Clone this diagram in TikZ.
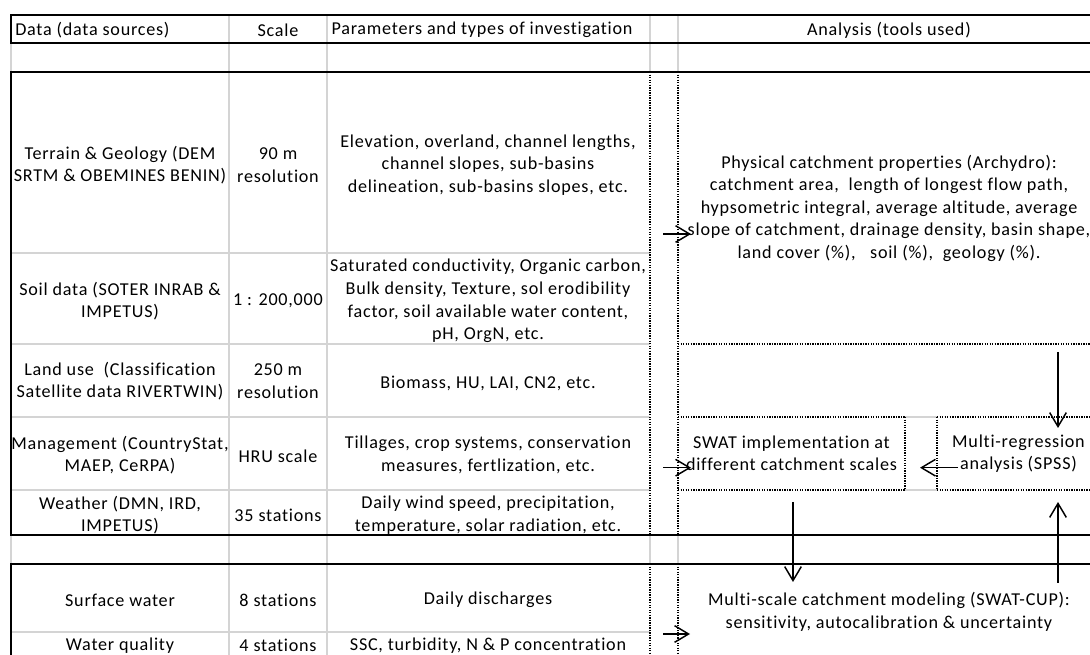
\documentclass[tikz,border=0pt]{standalone}
\usepackage{fontspec}
\setmainfont{Carlito}[LetterSpace=4.2,Ligatures=NoCommon]
\usetikzlibrary{arrows.meta,calc}
\begin{document}
\begin{tikzpicture}[x=0.75pt,y=-0.75pt,
  font=\fontsize{13.6}{16.9}\selectfont,
  tbl/.style={line width=1.6pt,black},
  grd/.style={line width=1.4pt,black!17},
  dotl/.style={line width=1.3pt,dash pattern=on 1pt off 0.9pt},
  arr/.style={line width=1.1pt,-{Straight Barb[length=10.5pt,width=12.5pt,line width=1.1pt]}},
  cell/.style={align=center,inner sep=0pt},
  boxn/.style={align=center,inner sep=0pt,outer sep=0pt}]
\useasboundingbox (0,0) rectangle (1090,655);
\clip (0,0) rectangle (1090,655);
\fill[white] (0,0) rectangle (1090,655);
% gray grid lines
\foreach \x in {229,327} \draw[grd] (\x,15) -- (\x,660);
\foreach \x in {650,678} {\draw[grd] (\x,15) -- (\x,72); \draw[grd] (\x,535) -- (\x,564);}
\draw[grd] (11,43) -- (11,72);
\draw[grd] (11,535) -- (11,564);
\foreach \y in {253,344,417,490,632} \draw[grd] (11,\y) -- (650,\y);
\foreach \y in {417,490} \draw[grd] (905,\y) -- (937,\y);
% dotted lines
\foreach \x in {650,678} {\draw[dotl] (\x,72) -- (\x,535); \draw[dotl] (\x,564) -- (\x,660);}
\draw[dotl] (678,344) -- (1100,344);
\foreach \y in {417,490} {\draw[dotl] (678,\y) -- (905,\y); \draw[dotl] (937,\y) -- (1100,\y);}
\foreach \x in {905,937} \draw[dotl] (\x,417) -- (\x,490);
% thick lines
\foreach \y in {15,43,72,535,564} \draw[tbl] (10.2,\y) -- (1100,\y);
\draw[tbl] (11,15) -- (11,43);
\draw[tbl] (11,72) -- (11,535);
\draw[tbl] (11,564) -- (11,660);
% header
\node[cell,anchor=west] (hdata) at (15,30) {Data (data sources)};
\node[cell] (hscale) at (278,30) {Scale};
\node[cell] (hparam) at (482,30) {Parameters and types of investigation};
\node[cell] (hanal) at (889,30) {Analysis (tools used)};
% left table
\node[cell] (terrain) at (120,165) {Terrain \& Geology (DEM\\SRTM \& OBEMINES BENIN)};
\node[cell] (res90) at (278,165) {90 m\\resolution};
\node[cell] (terrainp) at (488,165) {Elevation, overland, channel lengths,\\channel slopes, sub-basins\\delineation, sub-basins slopes, etc.};
\node[cell] (soil) at (120,301) {Soil data (SOTER INRAB \&\\IMPETUS)};
\node[cell] (soilsc) at (278,301) {1 : 200,000};
\node[cell] (soilp) at (488,301) {Saturated conductivity, Organic carbon,\\Bulk density, Texture, sol erodibility\\factor, soil available water content,\\pH, OrgN, etc.};
\node[cell] (land) at (120,381) {Land use\ \ (Classification\\Satellite data RIVERTWIN)};
\node[cell] (res250) at (278,381) {250 m\\resolution};
\node[cell] (landp) at (488,383) {Biomass, HU, LAI, CN2, etc.};
\node[cell] (mgmt) at (120,455) {Management (CountryStat,\\MAEP, CeRPA)};
\node[cell] (hru) at (278,456) {HRU scale};
\node[cell] (mgmtp) at (488,455) {Tillages, crop systems, conservation\\measures, fertlization, etc.};
\node[cell] (weather) at (120,515) {Weather (DMN, IRD,\\IMPETUS)};
\node[cell] (st35) at (278,515) {35 stations};
\node[cell] (weatherp) at (488,515) {Daily wind speed, precipitation,\\temperature, solar radiation, etc.};
\node[cell] (surf) at (120,600) {Surface water};
\node[cell] (st8) at (278,600) {8 stations};
\node[cell] (surfp) at (488,600) {Daily discharges};
\node[cell] (wq) at (120,646) {Water quality};
\node[cell] (st4) at (278,645.5) {4 stations};
\node[cell] (wqp) at (488,646) {SSC, turbidity, N \& P concentration};
% analysis boxes
\node[boxn,minimum width=316.5pt,minimum height=204pt] (phys) at (889,208)
  {Physical catchment properties (Archydro):\\catchment area,\ \ length of longest flow path,\\hypsometric integral, average altitude, average\\slope of catchment, drainage density, basin shape,\\land cover (\%),\ \ \ soil (\%),\ \ geology (\%).};
\node[boxn,minimum width=170.25pt,minimum height=54.75pt] (swat) at (791.5,453.5)
  {SWAT implementation at\\different catchment scales};
\node[boxn,minimum width=122.25pt,minimum height=54.75pt] (mreg) at (1018.5,453.5)
  {Multi-regression\\analysis (SPSS)};
\node[boxn,minimum width=316.5pt,minimum height=72pt] (mscale) at (889,612)
  {Multi-scale catchment modeling (SWAT-CUP):\\sensitivity, autocalibration \& uncertainty};
% arrows
\coordinate (t1) at (663,234);
\coordinate (t2) at (663,467.7);
\coordinate (t3) at (663,634);
\draw[arr] (t1) -- ($(t1 -| phys.west)+(13,0)$);
\draw[arr] (t2) -- ($(t2 -| swat.west)+(13,0)$);
\draw[arr] (t3) -- ($(t3 -| mscale.west)+(12,0)$);
\draw[arr] ($(mreg.west)+(21,14.2)$) -- ($(swat.east)+(15,14.2)$);
\draw[arr] ($(phys.south -| mreg.north)+(39.5,8)$) -- ($(mreg.north)+(39.5,11)$);
\draw[arr] ($(mscale.north -| mreg.south)+(39.5,19)$) -- ($(mreg.south)+(39.5,12)$);
\draw[arr] ($(swat.south)+(1.5,12)$) -- ($(swat.south |- mscale.north)+(1.5,18)$);
\end{tikzpicture}
\end{document}
